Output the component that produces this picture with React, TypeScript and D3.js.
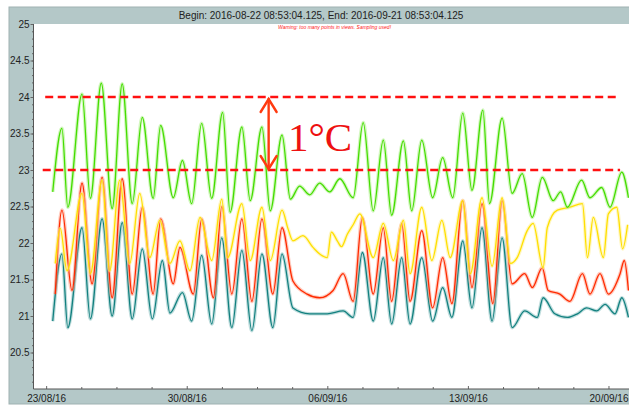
import { useEffect, useRef } from "react"
import * as d3 from "d3"

// hours since begin, temperature (°C)
const greenSeries: [number, number][] = [[23,22.7],[34,23.57],[41,22.49],[58,24.04],[68,22.61],[81,24.19],[94,22.47],[106,24.18],[118,22.54],[130,23.72],[143,22.61],[152,23.61],[167,22.62],[178,23.13],[189,22.54],[201,23.64],[213,22.61],[226,23.79],[235,22.42],[249,23.59],[259,22.58],[273,23.59],[283,22.44],[297,23.48],[307,22.6],[318,22.78],[330,22.66],[342,22.82],[354,22.7],[366,22.88],[382,22.62],[394,23.65],[406,22.44],[418,23.41],[428,22.38],[442,23.4],[452,22.44],[464,23.41],[477,22.62],[489,23.17],[501,22.62],[513,23.78],[524,22.72],[537,23.82],[545,22.54],[560,23.71],[572,22.68],[584,22.95],[596,22.35],[608,22.9],[621,22.58],[630,22.7],[638,22.49],[655,22.86],[665,22.62],[679,22.76],[689,22.49],[703,22.97],[711,22.62]]
const yellowSeries: [number, number][] = [[26,21.72],[32,22.2],[40,21.62],[58,22.68],[68,21.58],[82,22.86],[91,21.62],[103,22.86],[115,21.72],[127,22.68],[139,21.8],[151,22.31],[163,21.72],[175,22.03],[187,21.62],[199,22.35],[213,21.76],[225,22.6],[232,21.8],[249,22.54],[259,21.76],[273,22.49],[283,21.76],[297,22.45],[304,22.2],[310,22.03],[322,22.1],[334,21.94],[342,21.85],[351,21.8],[356,22.15],[363,22.03],[368,21.95],[375,22.12],[382,22.25],[390,22.4],[406,21.8],[418,22.27],[430,21.76],[442,22.31],[450,21.58],[464,22.49],[476,21.76],[488,22.31],[498,21.8],[513,22.58],[522,21.58],[536,22.62],[548,21.68],[560,22.62],[570,21.72],[578,21.8],[590,22.17],[597,22.27],[609,21.66],[614,22.21],[626,22.45],[641,22.49],[656,22.54],[662,21.8],[669,22.35],[681,21.8],[687,22.4],[697,22.49],[704,21.92],[710,22.25]]
const redSeries: [number, number][] = [[26,21.3],[34,22.45],[46,21.35],[58,22.82],[70,21.44],[82,22.9],[94,21.25],[106,22.88],[118,21.3],[130,22.49],[143,21.3],[152,22.33],[167,21.44],[175,21.94],[191,21.3],[201,22.33],[215,21.25],[225,22.5],[237,21.3],[249,22.33],[261,21.2],[273,22.33],[286,21.3],[297,22.21],[310,21.48],[327,21.3],[342,21.25],[358,21.35],[370,21.58],[382,21.2],[393,22.35],[406,21.3],[418,22.21],[428,21.2],[440,22.27],[450,21.2],[464,22.17],[477,21.11],[489,21.8],[500,21.17],[513,22.58],[524,21.39],[536,22.54],[549,21.17],[560,22.58],[572,21.44],[587,21.58],[596,21.39],[608,21.66],[615,21.35],[629,21.3],[641,21.2],[656,21.58],[665,21.3],[677,21.58],[687,21.3],[701,21.58],[706,21.76],[711,21.35]]
const tealSeries: [number, number][] = [[23,20.93],[34,21.85],[41,20.84],[58,22.21],[68,20.96],[82,22.33],[94,21.0],[106,22.28],[118,20.96],[130,21.92],[142,20.96],[154,21.76],[163,21.04],[178,21.32],[189,20.93],[201,21.83],[213,20.89],[225,22.07],[237,20.84],[249,21.9],[261,20.8],[273,21.85],[286,20.84],[297,21.85],[310,21.11],[330,21.03],[351,21.03],[370,21.07],[382,20.98],[393,21.87],[406,20.93],[418,21.8],[428,20.89],[440,21.8],[450,20.89],[464,21.8],[477,20.93],[489,21.39],[500,20.98],[513,22.03],[524,21.11],[536,22.21],[548,20.93],[560,22.07],[572,20.84],[587,21.07],[602,20.98],[609,21.25],[623,21.03],[638,20.98],[650,21.03],[661,21.11],[673,21.07],[683,21.16],[695,21.03],[703,21.25],[711,20.98]]

const yTicks = [20.5, 21, 21.5, 22, 22.5, 23, 23.5, 24, 24.5, 25]
// dashed guide lines: value, from hour, to hour
const guides = [[24, 14, 701], [23, 11, 701]]
const arrowHour = 281.5
const labelHour = 304

const title = "Begin: 2016-08-22 08:53:04.125, End: 2016-09-21 08:53:04.125"
const warning = "Warning: too many points in views. Sampling used!"

const BEGIN = new Date(2016, 7, 22, 8, 53, 4)
const END = new Date(2016, 8, 21, 8, 53, 4)

function App() {
  const width = 629
  const height = 407
  const left = 33.5
  const right = 636
  const top = 24
  const bottom = 389
  const xRef = useRef<SVGGElement>(null)
  const xMinorRef = useRef<SVGGElement>(null)
  const yRef = useRef<SVGGElement>(null)
  const yMinorRef = useRef<SVGGElement>(null)

  const x = d3.scaleTime().domain([BEGIN, END]).range([left, right])
  const y = d3.scaleLinear().domain([20, 25]).range([bottom, top])
  const t = (h: number) => d3.timeHour.offset(BEGIN, h)

  const myLine = d3.line<[number, number]>()
    .x(d => x(t(d[0])))
    .y(d => y(d[1]))
    .curve(d3.curveMonotoneX)

  useEffect(() => {
    const majors = d3.timeTuesday.range(BEGIN, END)
    const minors = majors.flatMap(d => [1, 2, 3].map(i => d3.timeHour.offset(d, 42 * i)))
      .filter(d => d < END)
    d3.select(xRef.current)
      .call(d3.axisBottom(x).tickValues(majors).tickSize(-3).tickPadding(6)
        .tickFormat(d => d3.timeFormat("%d/%m/%y")(d as Date)))
    d3.select(xMinorRef.current)
      .call(d3.axisBottom(x).tickValues(minors).tickSize(-2).tickFormat(() => ""))
    d3.select(yRef.current)
      .call(d3.axisLeft(y).tickValues(yTicks).tickSize(3).tickPadding(1).tickFormat(d3.format("")))
    d3.select(yMinorRef.current)
      .call(d3.axisLeft(y).tickValues(d3.range(20.1, 25, 0.1)).tickSize(1.5).tickFormat(() => ""))
    for (const r of [xRef, xMinorRef, yRef, yMinorRef]) {
      const g = d3.select(r.current)
      g.select(".domain").remove()
      g.selectAll("line").attr("stroke", "#666")
      g.selectAll("text").attr("fill", "#222").style("font-size", "10px")
        .style("font-family", "'Liberation Sans', Arial, sans-serif")
    }
  }, [])

  const series = [
    { data: tealSeries, color: "#12807f", halo: "#7fbcbc" },
    { data: redSeries, color: "#ff2a00", halo: "#ff9a80" },
    { data: yellowSeries, color: "#ffdf00", halo: "#fff08a" },
    { data: greenSeries, color: "#44dd00", halo: "#a8ef80" },
  ]

  const ax = x(t(arrowHour))
  const y24 = y(24) + 2
  const y23 = y(23) - 1

  return (
    <div style={{ position: "absolute", left: 0, top: 0 }}>
      <svg width={width} height={height} style={{ display: "block" }}>
        <defs>
          <clipPath id="plot">
            <rect x={left} y={top} width={right - left} height={bottom - top} />
          </clipPath>
        </defs>
        <rect x={9} y={7} width={700} height={397} fill="#b4c8c8" stroke="#9fb2b2" />
        <rect x={left} y={top} width={right - left} height={bottom - top} fill="#fff" />
        <text x={321} y={18.5} textAnchor="middle" fontSize={10} fill="#222"
          fontFamily="'Liberation Sans', Arial, sans-serif">{title}</text>
        <text x={278} y={29} fontSize={5} fill="#ff2020" fontStyle="italic"
          fontFamily="'Liberation Sans', Arial, sans-serif">{warning}</text>
        <g clipPath="url(#plot)">
          {series.map((s, i) => (
            <g key={i}>
              <path d={myLine(s.data) ?? ""} fill="none" stroke={s.halo} strokeWidth={3.6}
                strokeOpacity={0.5} strokeLinejoin="round" />
              <path d={myLine(s.data) ?? ""} fill="none" stroke={s.color} strokeWidth={1.3}
                strokeLinejoin="round" />
            </g>
          ))}
          {guides.map(([v, h0, h1], i) => (
            <line key={i} x1={x(t(h0))} x2={x(t(h1))} y1={y(v)} y2={y(v)}
              stroke="#ff1010" strokeWidth={2.4} strokeDasharray="8,4.5" />
          ))}
        </g>
        <g stroke="#ff3a10" strokeWidth={2.4} fill="none" strokeLinecap="round">
          <line x1={ax} x2={ax} y1={y24} y2={y23} />
          <polyline points={`${ax - 8},${y24 + 13} ${ax},${y24} ${ax + 8},${y24 + 13}`} />
          <polyline points={`${ax - 8},${y23 - 13} ${ax},${y23} ${ax + 8},${y23 - 13}`} />
        </g>
        <text x={x(t(labelHour))} y={y(23.26)} fontSize={41} fill="#ee1111"
          fontFamily="'Liberation Serif', 'Times New Roman', serif">1°C</text>
        <g ref={xMinorRef} transform={`translate(0,${bottom})`} />
        <g ref={xRef} transform={`translate(0,${bottom})`} />
        <g ref={yMinorRef} transform={`translate(${left},0)`} />
        <g ref={yRef} transform={`translate(${left},0)`} />
        <line x1={left} x2={left} y1={top} y2={bottom} stroke="#555" />
        <line x1={left} x2={right} y1={bottom} y2={bottom} stroke="#555" />
      </svg>
    </div>
  )
}

export default App
